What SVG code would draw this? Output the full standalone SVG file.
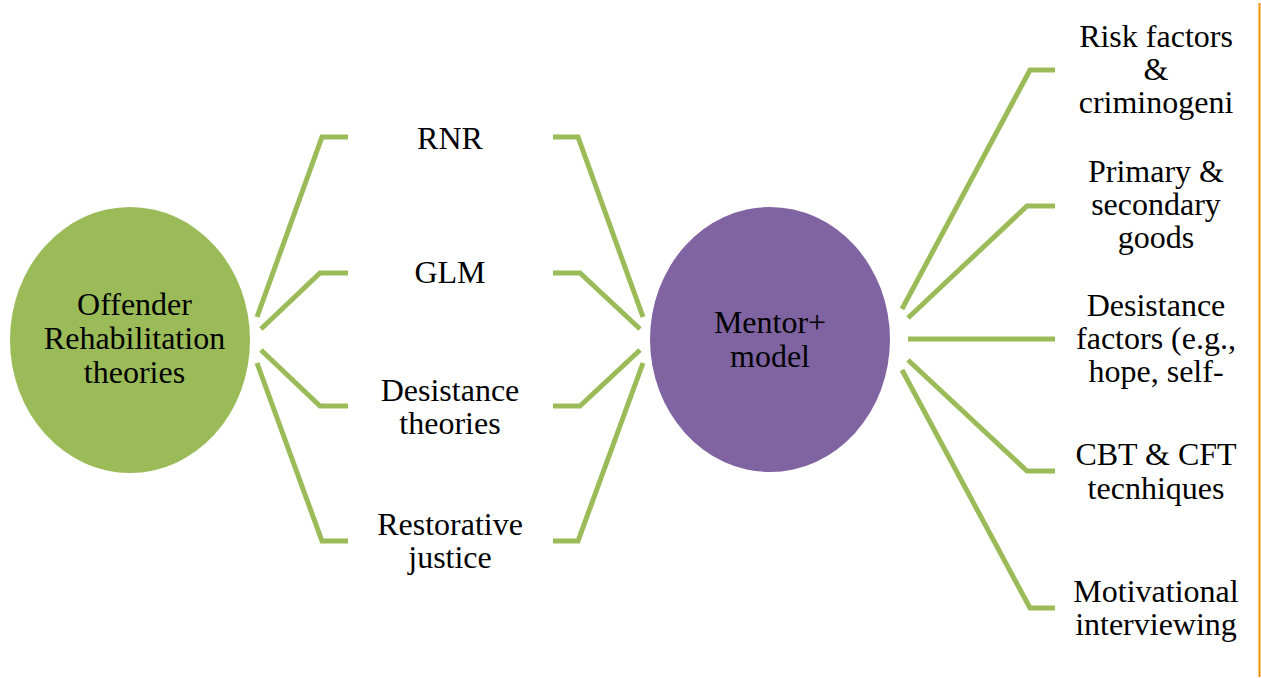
<svg xmlns="http://www.w3.org/2000/svg" width="1261" height="678" viewBox="0 0 1261 678">
<style>
.c{fill:none;stroke:#9BBB59;stroke-width:5;stroke-linejoin:miter}
.t{font-family:"Liberation Serif","Times New Roman",serif;font-size:32px;fill:#000;text-anchor:middle}
</style>
<rect width="1261" height="678" fill="#fff"/>
<line x1="1259.5" y1="3" x2="1259.5" y2="677" stroke="#F39200" stroke-width="2"/>
<g id="connectors">
<polyline class="c" points="257,317 322,137 348,137"/>
<polyline class="c" points="261,329 320,273 348,273"/>
<polyline class="c" points="261,350 320,406 348,406"/>
<polyline class="c" points="257,363 322,541 348,541"/>
<polyline class="c" points="553,137 578,137 643,317"/>
<polyline class="c" points="553,273 580,273 640,329"/>
<polyline class="c" points="553,406 580,406 640,350"/>
<polyline class="c" points="553,541 578,541 643,363"/>
<polyline class="c" points="902,309 1030,70 1055,70"/>
<polyline class="c" points="908,318 1027,206 1055,206"/>
<polyline class="c" points="908,339 1055,339"/>
<polyline class="c" points="908,360 1027,471 1055,471"/>
<polyline class="c" points="902,370 1030,608 1055,608"/>
</g>
<g id="offender">
<ellipse cx="130" cy="340" rx="120" ry="133" fill="#9BBB59"/>
<text class="t" x="134.5" y="315">Offender</text>
<text class="t" x="134.5" y="349">Rehabilitation</text>
<text class="t" x="134.5" y="383">theories</text>
</g>
<g id="mentor">
<ellipse cx="770" cy="339.5" rx="120" ry="132.5" fill="#8064A2"/>
<text class="t" x="770" y="333">Mentor+</text>
<text class="t" x="770" y="367">model</text>
</g>
<g id="rnr"><text class="t" x="450" y="149">RNR</text></g>
<g id="glm"><text class="t" x="450" y="283">GLM</text></g>
<g id="desistance-theories">
<text class="t" x="450" y="401">Desistance</text>
<text class="t" x="450" y="434">theories</text>
</g>
<g id="restorative">
<text class="t" x="450" y="535">Restorative</text>
<text class="t" x="450" y="568">justice</text>
</g>
<g id="risk">
<text class="t" x="1156" y="47">Risk factors</text>
<text class="t" x="1156" y="80">&amp;</text>
<text class="t" x="1156" y="113">criminogeni</text>
</g>
<g id="primary">
<text class="t" x="1156" y="182">Primary &amp;</text>
<text class="t" x="1156" y="215">secondary</text>
<text class="t" x="1156" y="248">goods</text>
</g>
<g id="desistance-factors">
<text class="t" x="1156" y="316">Desistance</text>
<text class="t" x="1156" y="349">factors (e.g.,</text>
<text class="t" x="1156" y="382">hope, self-</text>
</g>
<g id="cbt">
<text class="t" x="1156" y="465">CBT &amp; CFT</text>
<text class="t" x="1156" y="499">tecnhiques</text>
</g>
<g id="mi">
<text class="t" x="1156" y="602">Motivational</text>
<text class="t" x="1156" y="635">interviewing</text>
</g>
</svg>
